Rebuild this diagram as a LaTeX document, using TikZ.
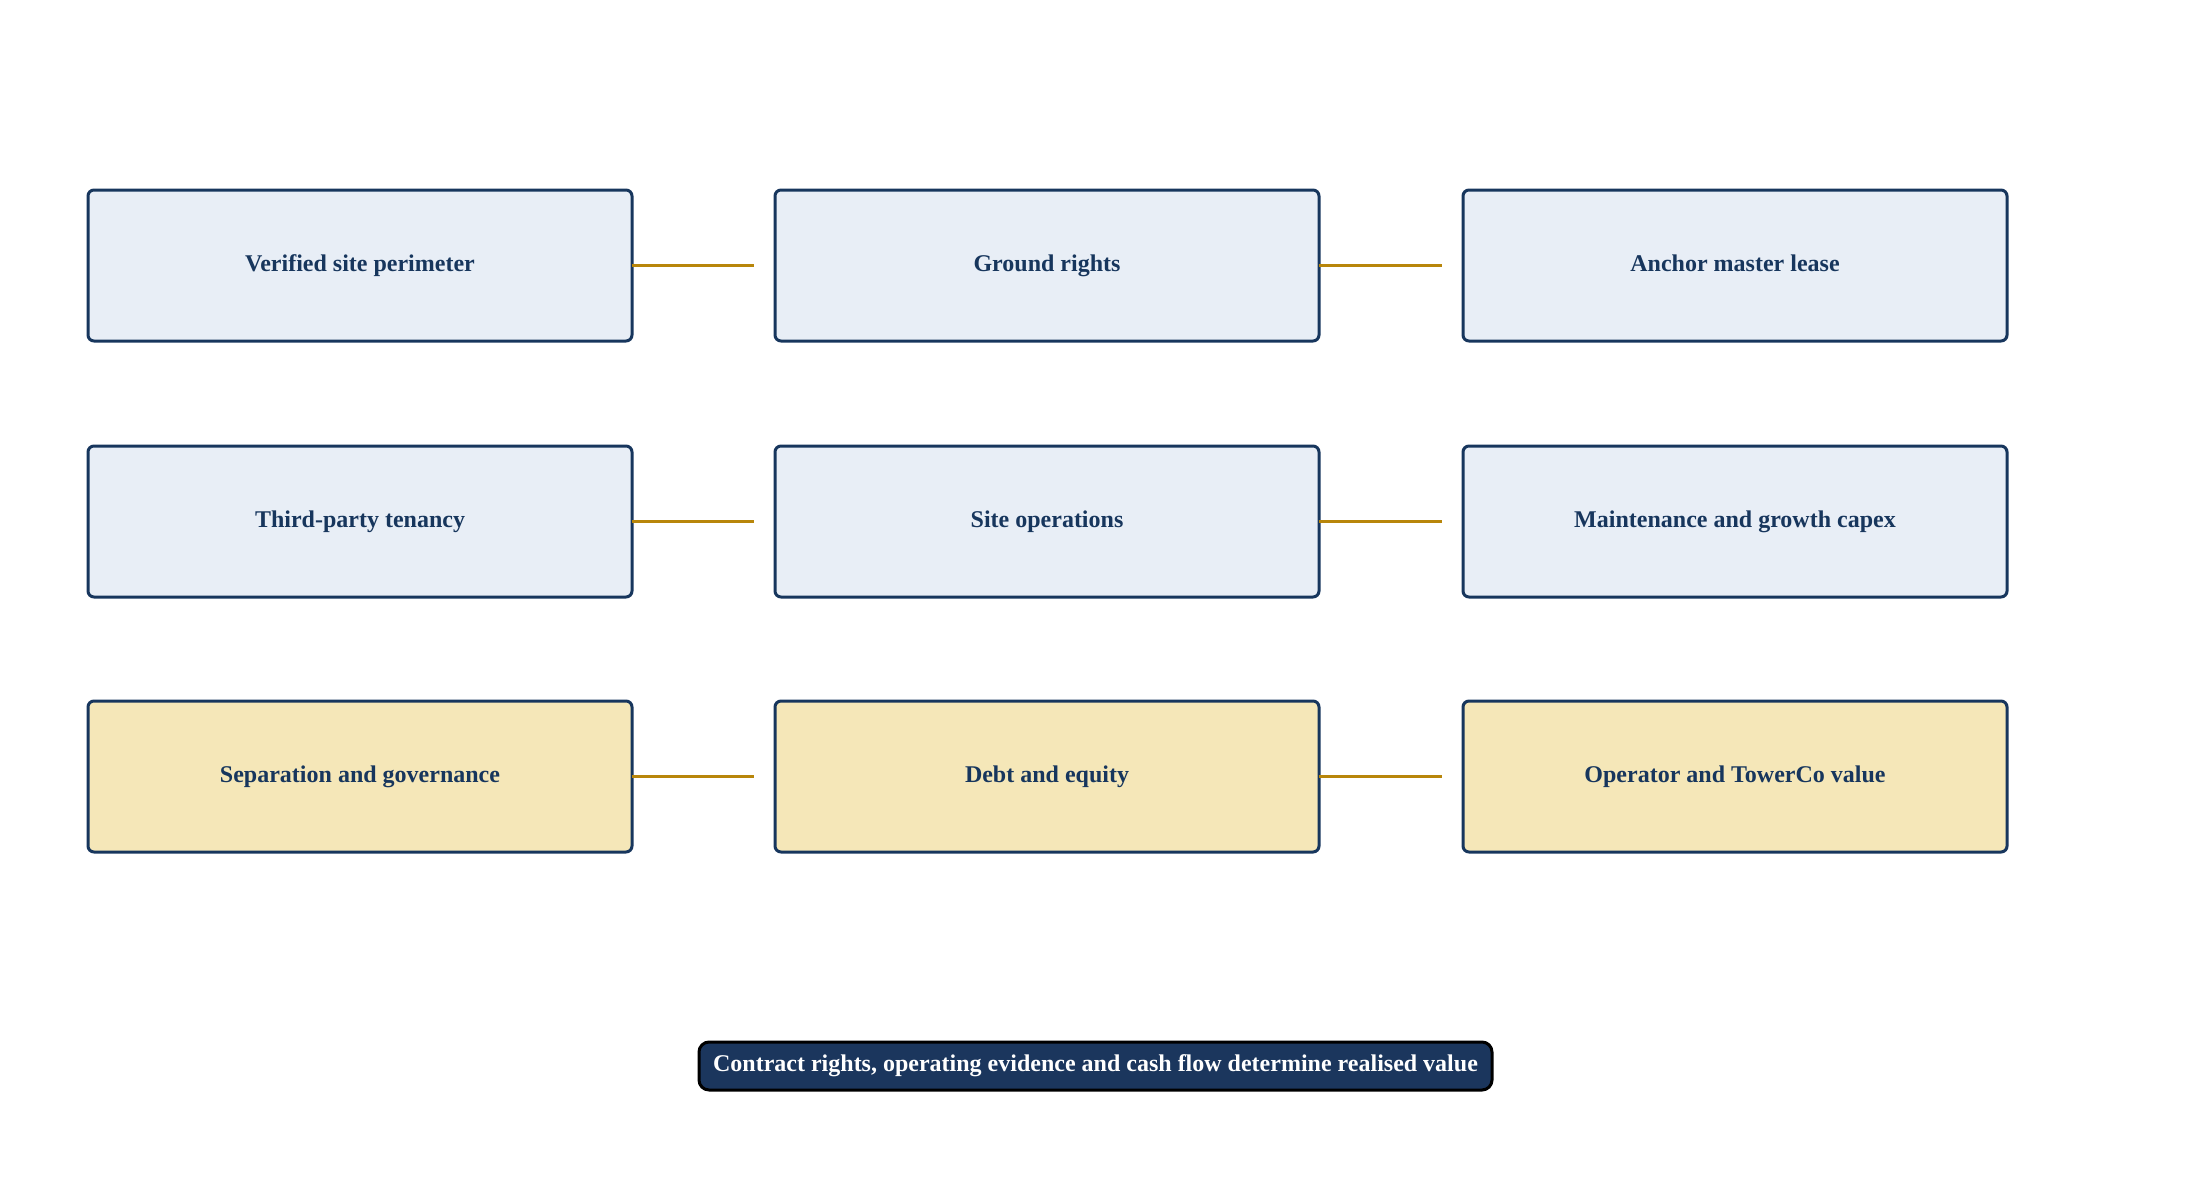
\documentclass[tikz,border=0pt]{standalone}
\usepackage{fontspec}
\setmainfont{Liberation Serif}
\definecolor{navy}{HTML}{17365D}
\definecolor{boxblue}{HTML}{E8EEF6}
\definecolor{boxgold}{HTML}{F5E7B8}
\definecolor{gold}{HTML}{B8860B}
\definecolor{pillnavy}{HTML}{1B365D}
\tikzset{
  stepbox/.style={draw=navy, line width=3pt, rounded corners=6pt, fill=boxblue,
    minimum width=544pt, minimum height=151pt, inner sep=0pt,
    text height=17pt, text depth=6pt,
    text=navy, font=\fontsize{24}{28}\selectfont\bfseries},
  goldbox/.style={stepbox, fill=boxgold},
  link/.style={draw=gold, line width=3pt},
  pill/.style={draw=black, line width=3pt, rounded corners=10pt, fill=pillnavy,
    minimum width=793pt, minimum height=48pt, inner sep=0pt,
    text height=17pt, text depth=6pt,
    text=white, font=\fontsize{24}{28}\selectfont\bfseries}
}
\begin{document}
\begin{tikzpicture}[x=1pt,y=-1pt]
\useasboundingbox (0,0) rectangle (2191,1179);
\node[stepbox] (a1) at (360,265.5) {Verified site perimeter};
\node[stepbox] (a2) at (1047,265.5) {Ground rights};
\node[stepbox] (a3) at (1735,265.5) {Anchor master lease};
\node[stepbox] (b1) at (360,521.5) {Third-party tenancy};
\node[stepbox] (b2) at (1047,521.5) {Site operations};
\node[stepbox] (b3) at (1735,521.5) {Maintenance and growth capex};
\node[goldbox] (c1) at (360,776.5) {Separation and governance};
\node[goldbox] (c2) at (1047,776.5) {Debt and equity};
\node[goldbox] (c3) at (1735,776.5) {Operator and TowerCo value};
\node[pill] (p) at (1095.5,1066) {Contract rights, operating evidence and cash flow determine realised value};
\foreach \r in {a,b,c}{
  \coordinate (\r e12) at ([xshift=-20pt]\r2.west);
  \coordinate (\r e23) at ([xshift=-20pt]\r3.west);
  \draw[link] ([xshift=-2pt]\r1.east) -- (\r e12);
  \draw[link] ([xshift=-2pt]\r2.east) -- (\r e23);
}
\end{tikzpicture}
\end{document}
